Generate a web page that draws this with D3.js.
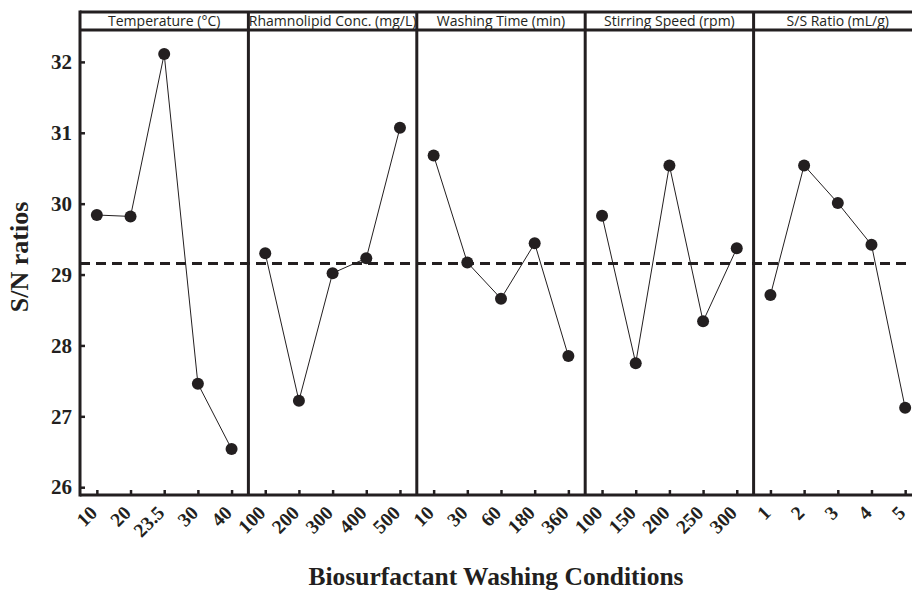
<!DOCTYPE html>
<html><head><meta charset="utf-8">
<script src="https://cdn.jsdelivr.net/npm/d3@7"></script>
<style>body{margin:0;background:#fff}svg{display:block}</style>
</head><body>
<script>
const panelTitles = ["Temperature (°C)","Rhamnolipid Conc. (mg/L)","Washing Time (min)","Stirring Speed (rpm)","S/S Ratio (mL/g)"];
const levelLabels = [
  ["10","20","23.5","30","40"],
  ["100","200","300","400","500"],
  ["10","30","60","180","360"],
  ["100","150","200","250","300"],
  ["1","2","3","4","5"]
];
const snValues = [
  [29.84,29.82,32.11,27.46,26.54],
  [29.30,27.22,29.02,29.23,31.07],
  [30.68,29.17,28.66,29.44,27.85],
  [29.83,27.75,30.54,28.34,29.37],
  [28.71,30.54,30.01,29.42,27.12]
];
const meanSN = 29.155;
const yTicks = [26,27,28,29,30,31,32];

const W=912,H=592;
const mLeft=80, mTop=12, headH=18, mBottom=495, panelW=168.4;
const serif="'Liberation Serif','Times New Roman',serif";
const svg=d3.select("body").append("svg").attr("width",W).attr("height",H);
const y=d3.scaleLinear().domain([25.89,32.45]).range([mBottom,mTop+headH]);
const panelX=d3.scaleBand().domain(d3.range(panelTitles.length)).range([mLeft,mLeft+panelW*panelTitles.length]).padding(0);
const ink="#231f20";

svg.append("line").attr("x1",mLeft).attr("x2",W).attr("y1",y(meanSN)).attr("y2",y(meanSN))
  .attr("stroke",ink).attr("stroke-width",3).attr("stroke-dasharray","10,6");

panelTitles.forEach((t,i)=>{
  const x0=panelX(i);
  const xs=d3.scalePoint().domain(levelLabels[i]).range([x0,x0+panelW]).padding(0.5);
  const g=svg.append("g");
  g.append("text").attr("x",x0+panelW/2).attr("y",26).attr("text-anchor","middle")
    .attr("font-family","'Open Sans',sans-serif").attr("font-size",14).attr("fill",ink).text(t);
  const pts=levelLabels[i].map((l,j)=>[xs(l),y(snValues[i][j])]);
  g.append("path").attr("d",d3.line()(pts)).attr("fill","none").attr("stroke",ink).attr("stroke-width",1);
  g.selectAll("circle").data(pts).join("circle").attr("cx",d=>d[0]).attr("cy",d=>d[1]).attr("r",6).attr("fill",ink);
  const ax=g.append("g").attr("transform",`translate(0,${mBottom})`)
    .call(d3.axisBottom(xs).tickSizeInner(-5).tickSizeOuter(0));
  ax.select(".domain").remove();
  ax.selectAll(".tick line").attr("stroke",ink).attr("stroke-width",2.5);
  ax.selectAll(".tick text").attr("font-family",serif).attr("font-weight","bold")
    .attr("font-size",19.5).attr("fill",ink).attr("text-anchor","end")
    .attr("transform","translate(1,19) rotate(-45)").attr("dy",0).attr("y",0).attr("x",0);
  if(i>0) g.append("line").attr("x1",x0).attr("x2",x0).attr("y1",mTop).attr("y2",mBottom).attr("stroke",ink).attr("stroke-width",3);
});

const yAx=svg.append("g").attr("transform",`translate(${mLeft},0)`)
  .call(d3.axisLeft(y).tickValues(yTicks).tickSizeInner(-5).tickSizeOuter(0).tickPadding(8).tickFormat(d3.format("d")));
yAx.select(".domain").remove();
yAx.selectAll(".tick line").attr("stroke",ink).attr("stroke-width",2.5);
yAx.selectAll(".tick text").attr("font-family",serif).attr("font-weight","bold").attr("font-size",21).attr("fill",ink);

svg.append("line").attr("x1",mLeft).attr("x2",mLeft).attr("y1",mTop-1.5).attr("y2",mBottom+1.5).attr("stroke",ink).attr("stroke-width",3);
svg.append("line").attr("x1",mLeft).attr("x2",W).attr("y1",mBottom).attr("y2",mBottom).attr("stroke",ink).attr("stroke-width",3);
svg.append("line").attr("x1",mLeft).attr("x2",W).attr("y1",mTop).attr("y2",mTop).attr("stroke",ink).attr("stroke-width",3);
svg.append("line").attr("x1",mLeft).attr("x2",W).attr("y1",mTop+headH).attr("y2",mTop+headH).attr("stroke",ink).attr("stroke-width",3);

svg.append("text").attr("transform",`translate(28,257) rotate(-90)`).attr("text-anchor","middle")
  .attr("font-family",serif).attr("font-weight","bold").attr("font-size",26).attr("fill",ink).text("S/N ratios");
svg.append("text").attr("x",496).attr("y",585).attr("text-anchor","middle")
  .attr("font-family",serif).attr("font-weight","bold").attr("font-size",25.5).attr("fill",ink).text("Biosurfactant Washing Conditions");
</script>
</body></html>
